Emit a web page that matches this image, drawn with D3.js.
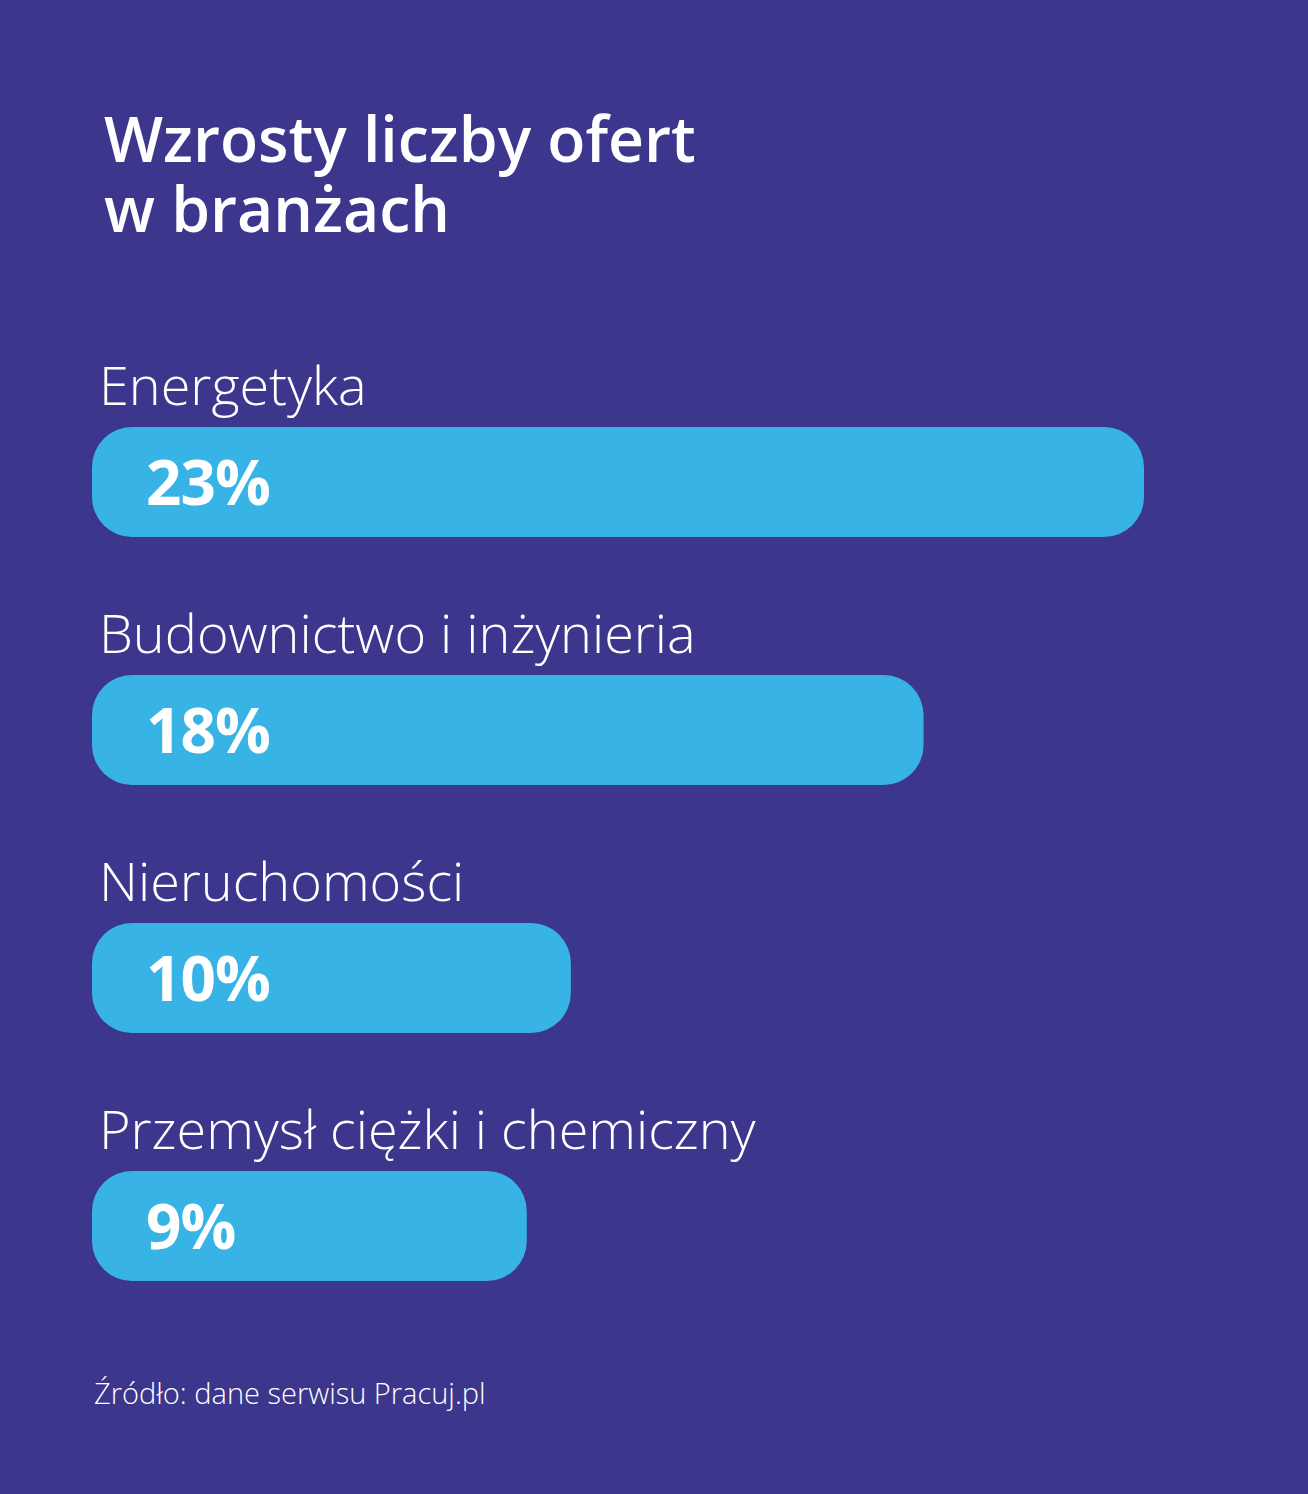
<!DOCTYPE html>
<html>
<head>
<meta charset="utf-8">
<script src="https://cdn.jsdelivr.net/npm/d3@7"></script>
<style>
  html, body { margin: 0; padding: 0; background: #3c368c; }
  svg { display: block; }
</style>
</head>
<body>
<svg id="chart"></svg>
<script>
const categories = ["Energetyka", "Budownictwo i inżynieria", "Nieruchomości", "Przemysł ciężki i chemiczny"];
const values = [23, 18, 10, 9];
const valueLabels = ["23%", "18%", "10%", "9%"];
const titleLines = ["Wzrosty liczby ofert", "w branżach"];
const source = "Źródło: dane serwisu Pracuj.pl";

const width = 1308;
const height = 1494;
const margin = {top: 427, left: 92, right: 164, bottom: 214};
const barH = 110;
const step = 248;

const svg = d3.select("#chart")
    .attr("width", width)
    .attr("height", height)
    .attr("viewBox", [0, 0, width, height]);

svg.append("rect")
    .attr("width", width)
    .attr("height", height)
    .attr("fill", "#3c368c");

// title, two lines
svg.append("text")
    .attr("x", 104)
    .attr("y", 162)
    .attr("fill", "#fff")
    .style("font-family", "'Open Sans', sans-serif")
    .style("font-weight", 600)
    .style("font-size", "62.5px")
    .selectAll("tspan")
    .data(titleLines)
    .join("tspan")
    .attr("x", 104)
    .attr("dy", (d, i) => i ? 70 : 0)
    .text(d => d);

const x = d3.scaleLinear()
    .domain([0, 23])
    .range([margin.left + 38, width - margin.right]);

const y = d3.scaleBand()
    .domain(categories)
    .range([margin.top, margin.top + step * categories.length])
    .paddingInner(0)
    .paddingOuter(0);

const g = svg.append("g")
    .selectAll("g")
    .data(categories)
    .join("g")
    .attr("transform", d => `translate(0,${y(d)})`);

g.append("text")
    .attr("x", 99)
    .attr("y", -22)
    .attr("fill", "#fff")
    .style("font-family", "'Open Sans', sans-serif")
    .style("font-weight", 300)
    .style("font-size", "54px")
    .text(d => d);

g.append("rect")
    .attr("x", margin.left)
    .attr("y", 0)
    .attr("width", (d, i) => x(values[i]) - margin.left)
    .attr("height", barH)
    .attr("rx", 40)
    .attr("ry", 40)
    .attr("fill", "#37b3e6");

g.append("text")
    .attr("x", 146)
    .attr("y", barH / 2 + 23)
    .attr("fill", "#fff")
    .style("font-family", "'Open Sans', sans-serif")
    .style("font-weight", 700)
    .style("font-size", "62px")
    .style("letter-spacing", "-1px")
    .text((d, i) => valueLabels[i]);

svg.append("text")
    .attr("x", 94)
    .attr("y", 1404)
    .attr("fill", "#fff")
    .style("font-family", "'Open Sans', sans-serif")
    .style("font-weight", 300)
    .style("font-size", "29px")
    .text(source);
</script>
</body>
</html>
